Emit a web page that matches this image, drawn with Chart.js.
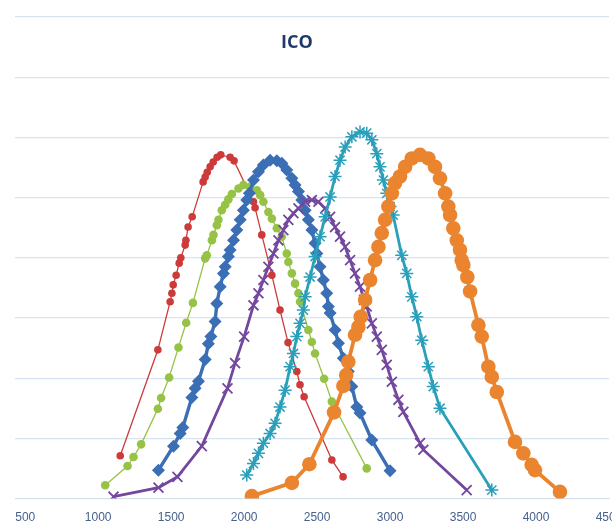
<!DOCTYPE html>
<html>
<head>
<meta charset="utf-8">
<script src="https://cdn.jsdelivr.net/npm/chart.js@4"></script>
<style>
  html, body { margin: 0; padding: 0; background: #ffffff; overflow: hidden; }
  #wrap { width: 612px; height: 527px; position: relative; overflow: hidden; }
  #inner { width: 640px; height: 527px; position: absolute; left: 0; top: 0; }
</style>
</head>
<body>
<div id="wrap"><div id="inner"><canvas id="c"></canvas></div></div>
<script>
// ---- Data ----
const chartTitle = "ICO";
const xTickValues = [500, 1000, 1500, 2000, 2500, 3000, 3500, 4000, 4500];

const redX = [1151,1409,1493,1505,1514,1534,1555,1566,1596,1601,1616,1644,1719,1733,1747,1767,1788,1815,1840,1904,1931,2064,2075,2121,2190,2246,2301,2361,2383,2411,2601,2678];
const redY = [0.71,2.47,3.27,3.41,3.55,3.71,3.91,4.00,4.21,4.29,4.51,4.68,5.26,5.34,5.42,5.51,5.59,5.67,5.71,5.67,5.61,4.93,4.83,4.38,3.71,3.13,2.59,2.11,1.89,1.69,0.64,0.36];

const greenX = [1048,1201,1242,1294,1409,1431,1486,1550,1603,1649,1733,1744,1779,1790,1813,1824,1847,1870,1892,1916,1961,1995,2041,2087,2110,2132,2166,2190,2224,2258,2292,2303,2327,2349,2372,2383,2440,2464,2486,2548,2601,2840];
const greenY = [0.22,0.54,0.69,0.90,1.49,1.67,2.01,2.51,2.92,3.25,3.99,4.04,4.29,4.38,4.54,4.63,4.79,4.88,4.97,5.06,5.15,5.21,5.18,5.12,5.04,4.93,4.76,4.65,4.49,4.35,4.07,3.93,3.74,3.57,3.41,3.27,2.80,2.60,2.41,1.99,1.61,0.50];

const blueX = [1413,1516,1562,1580,1642,1664,1687,1733,1755,1772,1801,1813,1836,1858,1870,1892,1904,1927,1950,1973,1995,2018,2036,2064,2098,2132,2178,2224,2258,2292,2327,2349,2372,2395,2418,2440,2464,2486,2498,2520,2543,2566,2577,2589,2623,2646,2680,2714,2738,2772,2794,2875,3000];
const blueY = [0.47,0.87,1.08,1.18,1.68,1.83,1.95,2.31,2.57,2.69,2.94,3.24,3.52,3.74,3.85,4.02,4.13,4.29,4.46,4.63,4.79,4.96,5.07,5.29,5.43,5.54,5.62,5.61,5.57,5.46,5.32,5.21,5.10,4.96,4.79,4.63,4.46,4.24,4.07,3.85,3.63,3.41,3.19,3.08,2.80,2.58,2.33,2.11,1.86,1.52,1.42,0.97,0.46];

const purpleX = [1105,1413,1543,1710,1886,1938,2000,2064,2098,2132,2166,2201,2235,2269,2303,2338,2372,2418,2464,2509,2555,2589,2623,2657,2692,2726,2760,2794,2822,2840,2875,2909,2943,2977,3012,3057,3091,3205,3228,3525];
const purpleY = [0.03,0.18,0.36,0.87,1.83,2.25,2.69,3.21,3.41,3.63,3.85,4.07,4.29,4.46,4.63,4.74,4.82,4.93,4.96,4.93,4.82,4.68,4.51,4.35,4.18,3.96,3.74,3.52,3.30,3.19,2.91,2.69,2.47,2.22,1.94,1.64,1.44,0.92,0.81,0.14];

const cyanX = [2018,2064,2098,2132,2178,2212,2246,2281,2315,2338,2361,2383,2406,2418,2452,2486,2520,2555,2589,2623,2657,2692,2738,2794,2840,2875,2909,2931,2954,2977,3000,3021,3080,3114,3149,3183,3217,3262,3296,3342,3697];
const cyanY = [0.39,0.58,0.75,0.92,1.08,1.25,1.52,1.80,2.19,2.41,2.69,2.91,3.13,3.35,3.68,4.02,4.35,4.68,5.01,5.35,5.62,5.84,6.01,6.09,6.07,5.96,5.73,5.51,5.29,5.07,4.85,4.71,4.04,3.74,3.35,3.02,2.63,2.19,1.86,1.50,0.14];

const orangeX = [2053,2327,2447,2616,2680,2699,2714,2760,2783,2799,2829,2863,2897,2920,2943,2966,2988,3012,3034,3068,3103,3149,3205,3262,3308,3342,3377,3399,3411,3433,3457,3479,3491,3502,3529,3548,3605,3628,3673,3697,3731,3856,3913,3970,3993,4164];
const orangeY = [0.04,0.26,0.57,1.43,1.87,2.05,2.27,2.72,2.85,3.02,3.30,3.63,3.96,4.18,4.41,4.63,4.85,5.07,5.24,5.35,5.51,5.65,5.71,5.65,5.51,5.32,5.07,4.85,4.71,4.49,4.29,4.13,3.96,3.88,3.68,3.44,2.88,2.69,2.19,2.02,1.77,0.94,0.75,0.56,0.47,0.11];

// ---- Build chart ----
const pts = (xs, ys) => xs.map((x, i) => ({ x: x, y: ys[i] }));

const titlePlugin = {
  id: 'icoTitle',
  afterDraw(chart) {
    const ctx = chart.ctx;
    ctx.save();
    ctx.font = 'bold 18px "Open Sans", "Liberation Sans", sans-serif';
    ctx.fillStyle = '#1F3A68';
    ctx.textAlign = 'center';
    ctx.textBaseline = 'middle';
    ctx.fillText(chartTitle, 297, 43);
    ctx.restore();
  }
};

new Chart(document.getElementById('c'), {
  type: 'scatter',
  data: {
    datasets: [
      { label: 'red', data: pts(redX, redY), showLine: true, order: 6,
        borderColor: '#CD3A3A', backgroundColor: '#CD3A3A', borderWidth: 1.3,
        pointStyle: 'circle', pointRadius: 3.8, pointBorderWidth: 0 },
      { label: 'green', data: pts(greenX, greenY), showLine: true, order: 5,
        borderColor: '#96C346', backgroundColor: '#96C346', borderWidth: 1.3,
        pointStyle: 'circle', pointRadius: 4.3, pointBorderWidth: 0 },
      { label: 'blue', data: pts(blueX, blueY), showLine: true, order: 4,
        borderColor: '#3A6EB5', backgroundColor: '#3A6EB5', borderWidth: 3.4,
        pointStyle: 'rectRot', pointRadius: 6.5, pointBorderWidth: 0 },
      { label: 'purple', data: pts(purpleX, purpleY), showLine: true, order: 3,
        borderColor: '#74479E', backgroundColor: '#74479E', borderWidth: 2.8,
        pointStyle: 'crossRot', pointRadius: 7, pointBorderWidth: 1.8, pointBorderColor: '#74479E' },
      { label: 'cyan', data: pts(cyanX, cyanY), showLine: true, order: 2,
        borderColor: '#2A9FBA', backgroundColor: '#2A9FBA', borderWidth: 2.8,
        pointStyle: 'star', pointRadius: 6.5, pointBorderWidth: 1.5, pointBorderColor: '#2A9FBA' },
      { label: 'orange', data: pts(orangeX, orangeY), showLine: true, order: 1,
        borderColor: '#EA842E', backgroundColor: '#EA842E', borderWidth: 3.8,
        pointStyle: 'circle', pointRadius: 7.3, pointBorderWidth: 0 }
    ]
  },
  options: {
    responsive: true,
    maintainAspectRatio: false,
    animation: false,
    devicePixelRatio: 1,
    layout: { padding: { left: 15, right: 31, top: 17, bottom: 3.5 } },
    plugins: { legend: { display: false }, title: { display: false }, tooltip: { enabled: false } },
    elements: { line: { tension: 0 } },
    scales: {
      x: {
        type: 'linear', min: 430, max: 4500,
        afterBuildTicks: (s) => { s.ticks = xTickValues.map(v => ({ value: v })); },
        afterFit: (s) => { s.paddingLeft = 0; s.paddingRight = 0; s.height = 25; },
        grid: { display: false, drawTicks: false },
        border: { display: true, color: '#D3E1EF', width: 1 },
        ticks: { color: '#46618C', font: { family: '"Liberation Sans", sans-serif', size: 12 },
                 padding: 12, maxRotation: 0, autoSkip: false,
                 callback: (v) => String(v) }
      },
      y: {
        min: 0, max: 8,
        afterFit: (s) => { s.width = 0; s.paddingTop = 0; s.paddingBottom = 0; },
        ticks: { display: false, stepSize: 1 },
        grid: { color: '#D6E3F1', lineWidth: 1.2, drawTicks: false },
        border: { display: false }
      }
    }
  },
  plugins: [titlePlugin]
});
</script>
</body>
</html>
